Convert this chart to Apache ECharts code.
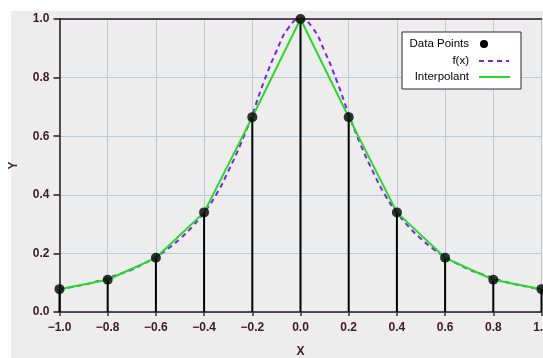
<!DOCTYPE html>
<html>
<head>
<meta charset="utf-8">
<script src="https://cdn.jsdelivr.net/npm/echarts@6/dist/echarts.min.js"></script>
<style>
  html, body { margin: 0; padding: 0; background: #fff; }
  #chart { width: 543px; height: 358px; }
</style>
</head>
<body>
<div id="chart"></div>
<script>
// sample points (x, y)
var pointX = [-1.0, -0.8, -0.6, -0.4, -0.2, 0.0, 0.2, 0.4, 0.6, 0.8, 1.0];
var pointY = [0.078, 0.11, 0.185, 0.34, 0.665, 1.0, 0.665, 0.34, 0.185, 0.11, 0.078];

// dashed f(x) curve, estimated every 0.05
var curveX = [-1.0, -0.95, -0.9, -0.85, -0.8, -0.75, -0.7, -0.65, -0.6, -0.55, -0.5, -0.45, -0.4, -0.35, -0.3, -0.25, -0.2, -0.15, -0.1, -0.05,
              0.0, 0.05, 0.1, 0.15, 0.2, 0.25, 0.3, 0.35, 0.4, 0.45, 0.5, 0.55, 0.6, 0.65, 0.7, 0.75, 0.8, 0.85, 0.9, 0.95, 1.0];
var curveY = [0.077, 0.085, 0.093, 0.103, 0.115, 0.13, 0.145, 0.165, 0.188, 0.216, 0.25, 0.29, 0.34, 0.40, 0.48, 0.57, 0.675, 0.79, 0.89, 0.97,
              1.0, 0.97, 0.89, 0.79, 0.675, 0.57, 0.48, 0.40, 0.34, 0.29, 0.25, 0.216, 0.188, 0.165, 0.145, 0.13, 0.115, 0.103, 0.093, 0.085, 0.077];

var axisColor = '#2a1522';
var labelColor = '#3a1c24';
var gridColor = '#b9cad8';
var font = 'Liberation Sans, Arial, Helvetica, sans-serif';

function pairs(xs, ys) {
    var out = [];
    for (var i = 0; i < xs.length; i++) out.push([xs[i], ys[i]]);
    return out;
}

function fmt(v) {
    return v.toFixed(1).replace('-', '\u2212');
}

var chart = echarts.init(document.getElementById('chart'), null, {renderer: 'canvas'});

var option = {
    animation: false,
    backgroundColor: '#ffffff',
    textStyle: {fontFamily: font},
    grid: {left: 59.5, top: 19, right: 1.5, bottom: 46, containLabel: false, outerBoundsMode: 'none'},
    graphic: [
        {type: 'rect', z: -10, silent: true, shape: {x: 11, y: 11, width: 540, height: 360}, style: {fill: '#ededed'}},
        {type: 'rect', z: 100, shape: {x: 402, y: 32, width: 119, height: 57}, style: {fill: '#ffffff', stroke: '#3a2030', lineWidth: 1}},
        {type: 'text', z: 101, style: {x: 469, y: 44, text: 'Data Points', align: 'right', verticalAlign: 'middle', fill: '#000', font: '11.5px ' + font}},
        {type: 'circle', z: 101, shape: {cx: 484, cy: 44, r: 4}, style: {fill: '#000'}},
        {type: 'text', z: 101, style: {x: 469, y: 61, text: 'f(x)', align: 'right', verticalAlign: 'middle', fill: '#000', font: '11.5px ' + font}},
        {type: 'line', z: 101, shape: {x1: 479, y1: 61, x2: 509, y2: 61}, style: {stroke: '#7a22ee', lineWidth: 2, lineDash: [5, 4]}},
        {type: 'text', z: 101, style: {x: 469, y: 77, text: 'Interpolant', align: 'right', verticalAlign: 'middle', fill: '#000', font: '11.5px ' + font}},
        {type: 'line', z: 101, shape: {x1: 479, y1: 77, x2: 510, y2: 77}, style: {stroke: '#22dd22', lineWidth: 2}}
    ],
    xAxis: [{
        type: 'value',
        min: -1, max: 1, interval: 0.2,
        name: 'X', nameLocation: 'middle', nameGap: 34,
        nameTextStyle: {color: labelColor, fontSize: 12, fontWeight: 'bold', fontFamily: font},
        axisLine: {show: true, onZero: false, lineStyle: {color: axisColor, width: 1.5}},
        axisTick: {show: true, length: 4, lineStyle: {color: '#4a2a50', width: 1.5}},
        axisLabel: {color: labelColor, fontSize: 12, fontWeight: 'bold', margin: 10, formatter: fmt},
        splitLine: {show: true, lineStyle: {color: gridColor, width: 1}}
    }, {
        type: 'value', position: 'top',
        min: -1, max: 1, interval: 0.2,
        axisLine: {show: true, onZero: false, lineStyle: {color: axisColor, width: 1.5}},
        axisTick: {show: false}, axisLabel: {show: false}, splitLine: {show: false}
    }],
    yAxis: {
        type: 'value',
        min: 0, max: 1, interval: 0.2,
        name: 'Y', nameLocation: 'middle', nameGap: 40, nameRotate: 90,
        nameTextStyle: {color: labelColor, fontSize: 12, fontWeight: 'bold', fontFamily: font},
        axisLine: {show: true, onZero: false, lineStyle: {color: axisColor, width: 1.5}},
        axisTick: {show: true, length: 6, lineStyle: {color: axisColor, width: 1.5}},
        axisLabel: {color: labelColor, fontSize: 12, fontWeight: 'bold', margin: 10, formatter: fmt},
        splitLine: {show: true, lineStyle: {color: gridColor, width: 1}}
    },
    series: [
        {
            name: 'stems',
            type: 'custom',
            z: 2,
            data: pairs(pointX, pointY),
            renderItem: function (params, api) {
                var p0 = api.coord([api.value(0), 0]);
                var p1 = api.coord([api.value(0), api.value(1)]);
                return {type: 'line', shape: {x1: p0[0], y1: p0[1], x2: p1[0], y2: p1[1]},
                        style: {stroke: '#000', lineWidth: 2}};
            }
        },
        {
            name: 'f(x)',
            type: 'line',
            z: 3,
            smooth: true,
            showSymbol: false,
            data: pairs(curveX, curveY),
            lineStyle: {color: '#7a22ee', width: 2, type: [5, 4]}
        },
        {
            name: 'Interpolant',
            type: 'line',
            z: 4,
            showSymbol: false,
            data: pairs(pointX, pointY),
            lineStyle: {color: '#22dd22', width: 2}
        },
        {
            name: 'Data Points',
            type: 'scatter',
            z: 5,
            symbolSize: 10,
            data: pairs(pointX, pointY),
            itemStyle: {color: '#000'}
        }
    ]
};

chart.setOption(option);
</script>
</body>
</html>
